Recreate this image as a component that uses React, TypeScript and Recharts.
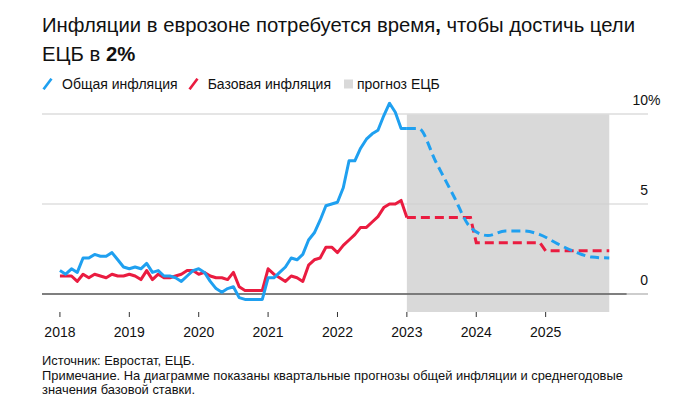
import React from 'react';
import { ComposedChart, Line, XAxis, YAxis, ReferenceArea, ReferenceLine } from 'recharts';

const SANS = '"Liberation Sans", Arial, Helvetica, sans-serif';

const BLUE = '#1fa0f0';
const RED = '#ea1c40';
const SHADE = '#d9d9d9';

const yearLabels = [2018, 2019, 2020, 2021, 2022, 2023, 2024, 2025];
const yTicks = [0, 5, 10];

// Monthly values from Jan 2018 (month index 0) through Jan 2023 (index 60)
const headlineActual = [
  1.3, 1.1, 1.4, 1.2, 2.0, 2.0, 2.2, 2.1, 2.1, 2.3, 1.9, 1.5,
  1.4, 1.5, 1.4, 1.7, 1.2, 1.3, 1.0, 1.0, 0.9, 0.7, 1.0, 1.3,
  1.4, 1.2, 0.7, 0.3, 0.1, 0.3, 0.4, -0.2, -0.3, -0.3, -0.3, -0.3,
  0.9, 0.9, 1.2, 1.5, 2.0, 1.9, 2.2, 3.0, 3.4, 4.1, 4.9, 5.0,
  5.1, 5.9, 7.4, 7.4, 8.1, 8.6, 8.9, 9.1, 9.9, 10.6, 10.1, 9.2,
  9.2,
];
const coreActual = [
  1.0, 1.0, 1.0, 0.7, 1.1, 0.9, 1.1, 1.0, 0.9, 1.1, 1.0, 1.0,
  1.1, 1.0, 0.8, 1.3, 0.8, 1.1, 0.9, 0.9, 1.0, 1.1, 1.3, 1.3,
  1.1, 1.2, 1.0, 0.9, 0.9, 0.8, 1.2, 0.4, 0.2, 0.2, 0.2, 0.2,
  1.4, 1.1, 0.9, 0.7, 1.0, 0.9, 0.7, 1.6, 1.9, 2.0, 2.6, 2.6,
  2.3, 2.7, 3.0, 3.3, 3.7, 3.7, 4.0, 4.3, 4.8, 5.0, 5.0, 5.2,
  4.25,
];

// ECB forecast: quarterly headline, annual-average core
const headlineForecastMonths = [60, 62, 65, 68, 71, 74, 77, 80, 83, 86, 89, 92, 95];
const headlineForecast = [9.2, 9.2, 7.35, 5.5, 3.7, 3.25, 3.5, 3.5, 3.3, 2.8, 2.35, 2.05, 2.0];
const coreForecastMonths = [60, 71, 72, 83, 84, 95];
const coreForecast = [4.25, 4.25, 2.85, 2.85, 2.4, 2.4];

const forecastStart = 60;
const forecastEnd = 95;
const totalMonths = 96;

const data = Array.from({ length: totalMonths }, (_, m) => {
  const hi = headlineForecastMonths.indexOf(m);
  const ci = coreForecastMonths.indexOf(m);
  return {
    m,
    headline: m < headlineActual.length ? headlineActual[m] : null,
    core: m < coreActual.length ? coreActual[m] : null,
    headlineF: hi >= 0 ? headlineForecast[hi] : null,
    coreF: ci >= 0 ? coreForecast[ci] : null,
  };
});

const xMin = -3.1;
const xMax = 101.7;
const yMin = -1;
const yMax = 10.7;

const YTick = (props: any) => {
  const { x, y, payload } = props;
  return (
    <g>
      <text x={x} y={y - 9} textAnchor="end" fontSize={14} fill="#111" fontFamily={SANS}>
        {payload.value}
      </text>
      {payload.value === 10 ? (
        <text x={x} y={y - 9} textAnchor="start" fontSize={14} fill="#111" fontFamily={SANS}>
          %
        </text>
      ) : null}
    </g>
  );
};

const Slash = ({ color }: { color: string }) => (
  <svg width={20} height={12} style={{ display: 'block' }}>
    <line x1={1.5} y1={11.3} x2={9.5} y2={0.7} stroke={color} strokeWidth={2.6} />
  </svg>
);

export default function App() {
  return (
    <div style={{ position: 'absolute', left: 0, top: 0, width: 682, height: 415, background: '#fff', overflow: 'hidden' }}>
      <div
        style={{
          position: 'absolute',
          left: 42,
          top: 10.5,
          fontFamily: SANS,
          fontSize: 20.3,
          lineHeight: '29px',
          color: '#111',
          whiteSpace: 'nowrap',
        }}
      >
        <div>
          Инфляции в еврозоне потребуется время<b>,</b> чтобы достичь цели
        </div>
        <div>
          ЕЦБ в <b>2%</b>
        </div>
      </div>
      <div
        style={{
          position: 'absolute',
          left: 42,
          top: 76,
          height: 16,
          fontFamily: SANS,
          fontSize: 14,
          lineHeight: '16px',
          color: '#111',
          whiteSpace: 'nowrap',
          display: 'flex',
          alignItems: 'center',
        }}
      >
        <Slash color={BLUE} />
        <span style={{ marginRight: 10 }}>Общая инфляция</span>
        <Slash color={RED} />
        <span style={{ marginRight: 10 }}>Базовая инфляция</span>
        <svg width={16} height={12} style={{ display: 'block' }}>
          <rect x={3} y={1.5} width={9} height={9} fill={SHADE} />
        </svg>
        <span>прогноз ЕЦБ</span>
      </div>
      <div style={{ position: 'absolute', left: 0, top: 0 }}>
        <ComposedChart width={682} height={415} data={data} margin={{ top: 101.4, right: 0, bottom: 73, left: 42 }}>
          <XAxis
            dataKey="m"
            type="number"
            domain={[xMin, xMax]}
            allowDataOverflow
            ticks={yearLabels.map((y) => (y - yearLabels[0]) * 12)}
            tickFormatter={(v: number) => String(yearLabels[0] + Math.round(v / 12))}
            axisLine={false}
            tickLine={{ stroke: '#333', strokeWidth: 1 }}
            tickSize={5}
            tickMargin={10}
            height={30}
            tick={{ fontSize: 14, fill: '#111', fontFamily: SANS }}
          />
          <YAxis
            orientation="right"
            type="number"
            domain={[yMin, yMax]}
            allowDataOverflow
            ticks={yTicks}
            axisLine={false}
            tickLine={false}
            tickSize={0}
            tickMargin={0}
            width={34}
            tick={<YTick />}
          />
          <ReferenceArea x1={forecastStart} x2={forecastEnd} y1={yMin} y2={10} fill={SHADE} fillOpacity={1} stroke="none" ifOverflow="visible" />
          <ReferenceLine y={10} stroke="#dcdcdc" strokeWidth={1.5} />
          <ReferenceLine y={5} stroke="#cfcfcf" strokeWidth={1.2} />
          <ReferenceLine y={0} stroke="#bdbdbd" strokeWidth={1.5} />
          <ReferenceLine
            segment={[{ x: xMin, y: 0 }, { x: 98, y: 0 }]}
            stroke="#333"
            strokeWidth={1.2}
            ifOverflow="visible"
          />
          <Line dataKey="core" type="linear" stroke={RED} strokeWidth={3} dot={false} isAnimationActive={false} strokeLinejoin="round" />
          <Line dataKey="headline" type="linear" stroke={BLUE} strokeWidth={3} dot={false} isAnimationActive={false} strokeLinejoin="round" />
          <Line dataKey="coreF" type="linear" stroke={RED} strokeWidth={3} strokeDasharray="9 5" dot={false} connectNulls isAnimationActive={false} />
          <Line dataKey="headlineF" type="monotone" stroke={BLUE} strokeWidth={3} strokeDasharray="9 5" dot={false} connectNulls isAnimationActive={false} />
        </ComposedChart>
      </div>
      <div
        style={{
          position: 'absolute',
          left: 42,
          top: 354,
          fontFamily: SANS,
          fontSize: 12.9,
          lineHeight: '14.7px',
          color: '#111',
          whiteSpace: 'nowrap',
        }}
      >
        <div>Источник: Евростат, ЕЦБ.</div>
        <div>Примечание. На диаграмме показаны квартальные прогнозы общей инфляции и среднегодовые</div>
        <div>значения базовой ставки.</div>
      </div>
    </div>
  );
}
